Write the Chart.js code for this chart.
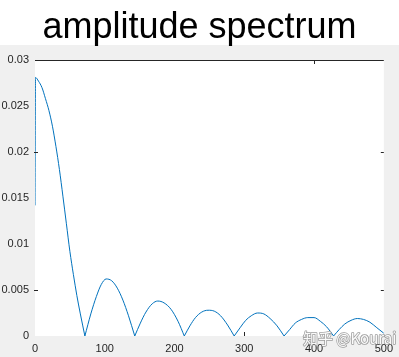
<!DOCTYPE html>
<html>
<head>
<meta charset="utf-8">
<script src="https://cdn.jsdelivr.net/npm/chart.js@4/dist/chart.umd.min.js"></script>
<style>
html,body{margin:0;padding:0;background:#f0f0f0;}
#wrap{width:399px;height:357px;}
</style>
</head>
<body>
<div id="wrap"><canvas id="c" width="399" height="357"></canvas></div>
<script>
// ---- data ----
const titleText = "amplitude spectrum";
const frequency = [0, 0.7, 5, 10, 15, 20, 25, 30, 35, 40, 45, 50, 55, 60, 65, 71.5,
  80, 88, 95, 102, 110, 118, 126, 134, 143,
  151, 159, 168, 176, 185, 195, 205, 214,
  222, 230, 239, 248, 257, 266, 276, 285.5,
  294, 302, 310, 319, 328, 337, 347, 357,
  365, 373, 382, 391, 400, 409, 418, 428,
  436, 444, 453, 462, 471, 480, 490, 500];
const amplitude = [0.0142, 0.0281, 0.0277, 0.0270, 0.0258, 0.0245, 0.0228, 0.0206, 0.0181, 0.0152, 0.0122, 0.0092, 0.0067, 0.0044, 0.0024, 0,
  0.0024, 0.0043, 0.0056, 0.0062, 0.0060, 0.0052, 0.0039, 0.0022, 0,
  0.0014, 0.0026, 0.0035, 0.0038, 0.0036, 0.0029, 0.0016, 0,
  0.0011, 0.0020, 0.0026, 0.0028, 0.0027, 0.0022, 0.0012, 0,
  0.0009, 0.0017, 0.0022, 0.0025, 0.0024, 0.0019, 0.0011, 0,
  0.0007, 0.0014, 0.0018, 0.0020, 0.0020, 0.0016, 0.0010, 0,
  0.0007, 0.0013, 0.0017, 0.0019, 0.0018, 0.0015, 0.0009, 0.0003];
const xTicks = [0, 100, 200, 300, 400, 500];
const yTicks = [0, 0.005, 0.01, 0.015, 0.02, 0.025, 0.03];
const yTickLabels = ["0", "0.005", "0.01", "0.015", "0.02", "0.025", "0.03"];
const watermark = "知乎 @Kourai";

// split the curve into lobes at its zeros so that each null is a sharp cusp
const lobes = [];
let current = [];
frequency.forEach((x, i) => {
  const p = {x: x, y: amplitude[i]};
  current.push(p);
  if (amplitude[i] === 0 && current.length > 1) {
    lobes.push(current);
    current = [p];
  }
});
if (current.length > 1) lobes.push(current);

const decor = {
  id: 'decor',
  beforeDraw(chart) {
    const ctx = chart.ctx, a = chart.chartArea;
    ctx.save();
    ctx.fillStyle = '#ffffff';
    ctx.fillRect(0, 0, chart.width, 45);
    ctx.fillStyle = '#f0f0f0';
    ctx.fillRect(0, 45, chart.width, chart.height - 45);
    ctx.fillStyle = '#ffffff';
    ctx.fillRect(a.left, a.top, a.right - a.left, a.bottom - a.top);
    ctx.fillStyle = '#000000';
    ctx.font = '36px "Liberation Sans", Arial, sans-serif';
    ctx.textAlign = 'center';
    ctx.textBaseline = 'alphabetic';
    ctx.fillText(titleText, 199.5, 38);
    ctx.restore();
  },
  afterDraw(chart) {
    const ctx = chart.ctx, a = chart.chartArea;
    const xs = chart.scales.x, ys = chart.scales.y;
    ctx.save();
    ctx.strokeStyle = '#262626';
    ctx.lineWidth = 1;
    ctx.beginPath();
    ctx.moveTo(a.left, Math.round(a.top) + 0.5);
    ctx.lineTo(a.right, Math.round(a.top) + 0.5);
    [0.02, 0.005].forEach(v => {
      const y = Math.round(ys.getPixelForValue(v)) + 0.5;
      ctx.moveTo(a.left - 1, y); ctx.lineTo(a.left + 3, y);
      ctx.moveTo(a.right - 3, y); ctx.lineTo(a.right, y);
    });
    const xt = Math.round(xs.getPixelForValue(400)) + 0.5;
    ctx.moveTo(xt, a.top); ctx.lineTo(xt, a.top + 4);
    const xb = Math.round(xs.getPixelForValue(300)) + 0.5;
    ctx.moveTo(xb, a.bottom); ctx.lineTo(xb, a.bottom - 4);
    ctx.stroke();
    ctx.font = '15px "Noto Sans CJK SC", "Noto Sans", sans-serif';
    ctx.textAlign = 'left';
    ctx.textBaseline = 'alphabetic';
    ctx.lineWidth = 1.5;
    ctx.lineJoin = 'round';
    ctx.strokeStyle = 'rgba(140,140,140,0.85)';
    ctx.fillStyle = 'rgba(255,255,255,0.95)';
    ctx.strokeText(watermark, 303, 344);
    ctx.fillText(watermark, 303, 344);
    ctx.restore();
  }
};

new Chart(document.getElementById('c'), {
  type: 'line',
  data: {
    datasets: lobes.map(seg => ({
      data: seg,
      borderColor: '#0072BD',
      borderWidth: 1,
      pointRadius: 0,
      fill: false,
      cubicInterpolationMode: 'monotone'
    }))
  },
  options: {
    responsive: false,
    animation: false,
    devicePixelRatio: 1,
    layout: {padding: {top: 60, right: 13, left: 0, bottom: 0}},
    plugins: {legend: {display: false}, tooltip: {enabled: false}, title: {display: false}},
    scales: {
      x: {
        type: 'linear', min: 0, max: 500,
        afterBuildTicks(s) { s.ticks = xTicks.map(v => ({value: v})); },
        afterFit(s) { s.height = 21; },
        grid: {display: false, drawTicks: false},
        border: {display: false},
        ticks: {color: '#262626', padding: 6, maxRotation: 0, autoSkip: false,
          font: {family: '"Liberation Sans", Arial, sans-serif', size: 11},
          callback: v => String(v)}
      },
      y: {
        type: 'linear', min: 0, max: 0.03,
        afterBuildTicks(s) { s.ticks = yTicks.map(v => ({value: v})); },
        afterFit(s) { s.width = 35; },
        grid: {display: false, drawTicks: false},
        border: {display: false},
        ticks: {color: '#262626', padding: 6, autoSkip: false,
          font: {family: '"Liberation Sans", Arial, sans-serif', size: 11},
          callback: (v, i) => yTickLabels[i]}
      }
    }
  },
  plugins: [decor]
});
</script>
</body>
</html>
